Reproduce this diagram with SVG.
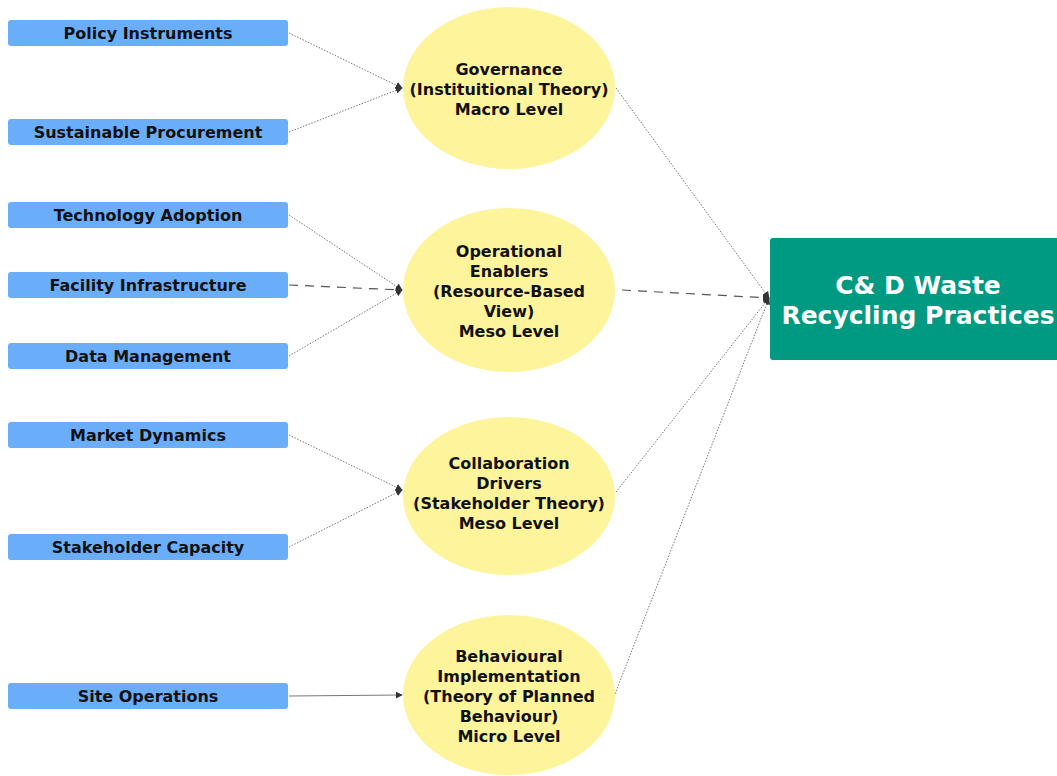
<svg xmlns="http://www.w3.org/2000/svg" width="1057" height="776" viewBox="0 0 1057 776">
<defs>
<marker id="arr" viewBox="0 0 10 10" refX="9" refY="5" markerWidth="7" markerHeight="7" orient="auto" markerUnits="userSpaceOnUse">
<path d="M0,0 L10,5 L0,10 z" fill="#333"/>
</marker>
<style>
.box{fill:#6aaefa;}
.ell{fill:#fdf49c;}
.lbl{font-family:"DejaVu Sans",sans-serif;font-weight:bold;font-size:16px;fill:#111;text-anchor:middle;dominant-baseline:central;}
.big{font-family:"DejaVu Sans",sans-serif;font-weight:bold;font-size:25px;fill:#fff;text-anchor:middle;dominant-baseline:central;}
.dot{fill:none;stroke:#777;stroke-width:1;stroke-dasharray:1.5 1.5;marker-end:url(#arr);}
.dash{fill:none;stroke:#555;stroke-width:1.2;stroke-dasharray:9 7;marker-end:url(#arr);}
.solid{fill:none;stroke:#777;stroke-width:1.2;marker-end:url(#arr);}
</style>
</defs>
<rect width="1057" height="776" fill="#fff"/>
<g id="connectors">
<line class="dot" x1="289" y1="33" x2="402" y2="88"/>
<line class="dot" x1="289" y1="132" x2="402" y2="88"/>
<line class="dot" x1="289" y1="215" x2="402" y2="290"/>
<line class="dash" x1="289" y1="285" x2="402" y2="290"/>
<line class="dot" x1="289" y1="356" x2="402" y2="290"/>
<line class="dot" x1="289" y1="435" x2="402" y2="490"/>
<line class="dot" x1="289" y1="547" x2="402" y2="490"/>
<line class="solid" x1="289" y1="696" x2="402" y2="695"/>
<line class="dot" x1="616" y1="88" x2="769" y2="298"/>
<line class="dash" x1="622" y1="290" x2="769" y2="298"/>
<line class="dot" x1="616" y1="492" x2="769" y2="298"/>
<line class="dot" x1="615" y1="694" x2="769" y2="298"/>
</g>
<g id="policy"><rect class="box" x="8" y="20" width="280" height="26" rx="3"/><text class="lbl" x="148" y="33">Policy Instruments</text></g>
<g id="procurement"><rect class="box" x="8" y="119" width="280" height="26" rx="3"/><text class="lbl" x="148" y="132">Sustainable Procurement</text></g>
<g id="technology"><rect class="box" x="8" y="202" width="280" height="26" rx="3"/><text class="lbl" x="148" y="215">Technology Adoption</text></g>
<g id="facility"><rect class="box" x="8" y="272" width="280" height="26" rx="3"/><text class="lbl" x="148" y="285">Facility Infrastructure</text></g>
<g id="data"><rect class="box" x="8" y="343" width="280" height="26" rx="3"/><text class="lbl" x="148" y="356">Data Management</text></g>
<g id="market"><rect class="box" x="8" y="422" width="280" height="26" rx="3"/><text class="lbl" x="148" y="435">Market Dynamics</text></g>
<g id="stakeholder"><rect class="box" x="8" y="534" width="280" height="26" rx="3"/><text class="lbl" x="148" y="547">Stakeholder Capacity</text></g>
<g id="site"><rect class="box" x="8" y="683" width="280" height="26" rx="3"/><text class="lbl" x="148" y="696">Site Operations</text></g>
<g id="governance"><ellipse class="ell" cx="509" cy="88" rx="106" ry="81"/>
<text class="lbl" x="509" y="69">Governance</text><text class="lbl" x="509" y="89">(Instituitional Theory)</text><text class="lbl" x="509" y="109">Macro Level</text></g>
<g id="operational"><ellipse class="ell" cx="509" cy="290" rx="106" ry="82"/>
<text class="lbl" x="509" y="251">Operational</text><text class="lbl" x="509" y="271">Enablers</text><text class="lbl" x="509" y="291">(Resource-Based</text><text class="lbl" x="509" y="311">View)</text><text class="lbl" x="509" y="331">Meso Level</text></g>
<g id="collaboration"><ellipse class="ell" cx="509" cy="496" rx="106" ry="79"/>
<text class="lbl" x="509" y="463">Collaboration</text><text class="lbl" x="509" y="483">Drivers</text><text class="lbl" x="509" y="503">(Stakeholder Theory)</text><text class="lbl" x="509" y="523">Meso Level</text></g>
<g id="behavioural"><ellipse class="ell" cx="509" cy="695" rx="106" ry="80"/>
<text class="lbl" x="509" y="656">Behavioural</text><text class="lbl" x="509" y="676">Implementation</text><text class="lbl" x="509" y="696">(Theory of Planned</text><text class="lbl" x="509" y="716">Behaviour)</text><text class="lbl" x="509" y="736">Micro Level</text></g>
<g id="outcome"><rect x="770" y="238" width="295" height="122" rx="3" fill="#009a82"/>
<text class="big" x="918" y="285">C&amp; D Waste</text><text class="big" x="918" y="315">Recycling Practices</text></g>
</svg>
